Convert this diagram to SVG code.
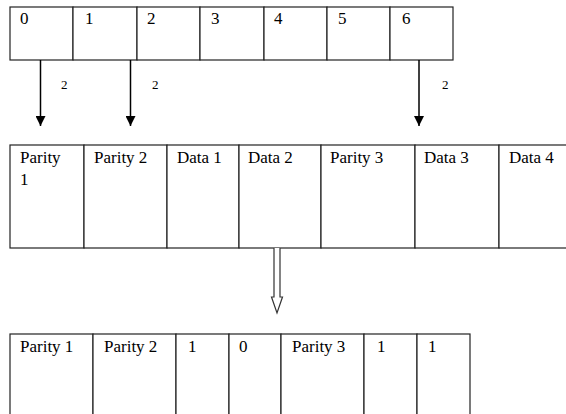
<svg xmlns="http://www.w3.org/2000/svg" width="566" height="414" viewBox="0 0 566 414">
<defs>
<style>
.cell{fill:#fff;stroke:#222;stroke-width:1.2}
.t{font-family:"Liberation Serif","Times New Roman",Times,"Noto Serif","DejaVu Serif",Tinos,FreeSerif,serif;font-size:17px;fill:#000}
.lbl{font-family:"Liberation Serif","Times New Roman",Times,"Noto Serif","DejaVu Serif",Tinos,FreeSerif,serif;font-size:13px;fill:#000}
.conn{stroke:#000;stroke-width:1.5;fill:none}
</style>
<marker id="ah" markerWidth="10" markerHeight="10" refX="10" refY="5" orient="auto" markerUnits="userSpaceOnUse">
<path d="M0,0 L10,5 L0,10 Z" fill="#000"/>
</marker>
</defs>
<rect width="566" height="414" fill="#fff"/>
<g id="row-indices">
<g id="idx0"><rect class="cell" x="10" y="7" width="63" height="53"/><text class="t" x="20" y="24">0</text></g>
<g id="idx1"><rect class="cell" x="73" y="7" width="64" height="53"/><text class="t" x="85" y="24">1</text></g>
<g id="idx2"><rect class="cell" x="137" y="7" width="63" height="53"/><text class="t" x="147" y="24">2</text></g>
<g id="idx3"><rect class="cell" x="200" y="7" width="64" height="53"/><text class="t" x="211" y="24">3</text></g>
<g id="idx4"><rect class="cell" x="264" y="7" width="63" height="53"/><text class="t" x="274" y="24">4</text></g>
<g id="idx5"><rect class="cell" x="327" y="7" width="63" height="53"/><text class="t" x="338" y="24">5</text></g>
<g id="idx6"><rect class="cell" x="390" y="7" width="63" height="53"/><text class="t" x="402" y="24">6</text></g>
</g>
<g id="row-labels">
<g id="p1"><rect class="cell" x="10" y="145" width="74" height="103"/><text class="t" x="20" y="163">Parity</text><text class="t" x="20" y="185">1</text></g>
<g id="p2"><rect class="cell" x="84" y="145" width="83" height="103"/><text class="t" x="94" y="163">Parity 2</text></g>
<g id="d1"><rect class="cell" x="167" y="145" width="72" height="103"/><text class="t" x="177" y="163">Data 1</text></g>
<g id="d2"><rect class="cell" x="239" y="145" width="82" height="103"/><text class="t" x="248" y="163">Data 2</text></g>
<g id="p3"><rect class="cell" x="321" y="145" width="94" height="103"/><text class="t" x="330" y="163">Parity 3</text></g>
<g id="d3"><rect class="cell" x="415" y="145" width="84" height="103"/><text class="t" x="424" y="163">Data 3</text></g>
<g id="d4"><rect class="cell" x="499" y="145" width="80" height="103"/><text class="t" x="509" y="163">Data 4</text></g>
</g>
<g id="row-values">
<g id="v1"><rect class="cell" x="10" y="334" width="83" height="90"/><text class="t" x="20" y="352">Parity 1</text></g>
<g id="v2"><rect class="cell" x="93" y="334" width="83" height="90"/><text class="t" x="104" y="352">Parity 2</text></g>
<g id="v3"><rect class="cell" x="176" y="334" width="53" height="90"/><text class="t" x="188" y="352">1</text></g>
<g id="v4"><rect class="cell" x="229" y="334" width="52" height="90"/><text class="t" x="239" y="352">0</text></g>
<g id="v5"><rect class="cell" x="281" y="334" width="83" height="90"/><text class="t" x="292" y="352">Parity 3</text></g>
<g id="v6"><rect class="cell" x="364" y="334" width="53" height="90"/><text class="t" x="377" y="352">1</text></g>
<g id="v7"><rect class="cell" x="417" y="334" width="53" height="90"/><text class="t" x="428" y="352">1</text></g>
</g>
<g id="connectors">
<line class="conn" x1="40.5" y1="60" x2="40.5" y2="126" marker-end="url(#ah)"/>
<line class="conn" x1="130.5" y1="60" x2="130.5" y2="126" marker-end="url(#ah)"/>
<line class="conn" x1="419" y1="60" x2="419" y2="126" marker-end="url(#ah)"/>
<text class="lbl" x="61" y="89">2</text>
<text class="lbl" x="152" y="89">2</text>
<text class="lbl" x="442" y="89">2</text>
<path d="M274,248 L274,297 L271.5,297 L277,313 L282.5,297 L280,297 L280,248" fill="#fff" stroke="#333" stroke-width="1.2"/>
</g>
</svg>
